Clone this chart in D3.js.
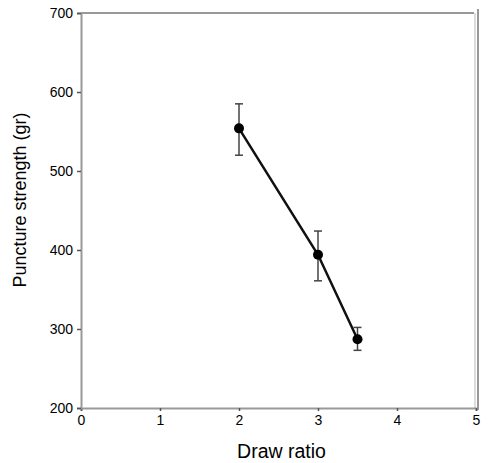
<!DOCTYPE html>
<html>
<head>
<meta charset="utf-8">
<script src="https://cdn.jsdelivr.net/npm/d3@7"></script>
<style>
  body { margin: 0; background: #fff; }
  text { font-family: "Liberation Sans", Arial, sans-serif; }
</style>
</head>
<body>
<script>
var drawRatio = [2, 3, 3.5]
var strength = [554, 394, 287]
var errHigh = [585, 424, 302]
var errLow = [520, 361, 273]
var xTicks = [0, 1, 2, 3, 4, 5]
var yTicks = [200, 300, 400, 500, 600, 700]

var width = 490, height = 463
var margin = {left: 81, right: 14, top: 13, bottom: 55}

var svg = d3.select('body').append('svg').
  attr('width', width).
  attr('height', height)

var x = d3.scaleLinear().domain([0, 5]).range([margin.left, width - margin.right])
var y = d3.scaleLinear().domain([200, 700]).range([height - margin.bottom, margin.top])

var axisColor = '#999'

// frame: top and right borders
svg.append('line').
  attr('x1', x(0)).attr('x2', x(5) - 2).
  attr('y1', y(700)).attr('y2', y(700)).
  attr('stroke', axisColor).attr('stroke-width', 2)
svg.append('line').
  attr('x1', x(5) + 2).attr('x2', x(5) + 2).
  attr('y1', y(700) - 4).attr('y2', y(200) + 2).
  attr('stroke', axisColor).attr('stroke-width', 2)
svg.append('line').
  attr('x1', x(5) - 1).attr('x2', x(5) - 1).
  attr('y1', y(700)).attr('y2', y(200)).
  attr('stroke', '#bbb').attr('stroke-width', 1)

var xAxis = svg.append('g').
  attr('transform', 'translate(0,' + y(200) + ')').
  call(d3.axisBottom(x).tickValues(xTicks).tickFormat(d3.format('d')).
    tickSize(3).tickPadding(4))
var yAxis = svg.append('g').
  attr('transform', 'translate(' + x(0) + ',0)').
  call(d3.axisLeft(y).tickValues(yTicks).tickFormat(d3.format('d')).
    tickSize(4).tickPadding(4))

;[xAxis, yAxis].forEach(function (a) {
  a.select('.domain').attr('stroke', axisColor).attr('stroke-width', 2)
  a.selectAll('.tick line').attr('stroke', '#555').attr('stroke-width', 1.5)
  a.selectAll('.tick text').attr('fill', '#000').
    style('font-size', '14px').style('font-family', '"Liberation Sans", Arial, sans-serif')
})

svg.append('text').
  attr('x', x(2.5) + 3).attr('y', 458).
  attr('text-anchor', 'middle').
  style('font-size', '19.5px').
  text('Draw ratio')

svg.append('text').
  attr('transform', 'translate(26,200) rotate(-90)').
  attr('text-anchor', 'middle').
  style('font-size', '18px').
  text('Puncture strength (gr)')

var pts = drawRatio.map(function (d, i) {
  return {x: d, y: strength[i], hi: errHigh[i], lo: errLow[i]}
})

// error bars
var eb = svg.append('g').attr('stroke', '#444').attr('stroke-width', 1.5)
pts.forEach(function (p) {
  eb.append('line').
    attr('x1', x(p.x)).attr('x2', x(p.x)).
    attr('y1', y(p.hi)).attr('y2', y(p.lo))
  eb.append('line').
    attr('x1', x(p.x) - 4).attr('x2', x(p.x) + 4).
    attr('y1', y(p.hi)).attr('y2', y(p.hi))
  eb.append('line').
    attr('x1', x(p.x) - 4).attr('x2', x(p.x) + 4).
    attr('y1', y(p.lo)).attr('y2', y(p.lo))
})

var line = d3.line().
  x(function (d) { return x(d.x) }).
  y(function (d) { return y(d.y) })

svg.append('path').
  datum(pts).
  attr('d', line).
  attr('fill', 'none').
  attr('stroke', '#111').
  attr('stroke-width', 2.5)

svg.append('g').selectAll('circle').
  data(pts).
  enter().
  append('circle').
  attr('cx', function (d) { return x(d.x) }).
  attr('cy', function (d) { return y(d.y) }).
  attr('r', 5).
  attr('fill', '#000')
</script>
</body>
</html>
